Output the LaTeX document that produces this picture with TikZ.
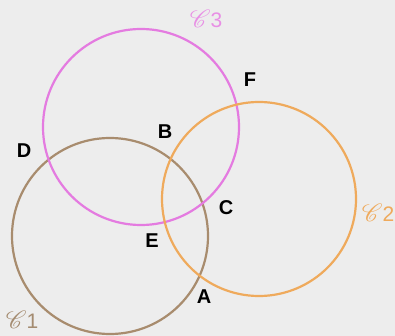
\documentclass[tikz,border=0pt]{standalone}
\usepackage{fontspec}
\usepackage{mathrsfs}
\setmainfont{Liberation Sans}
\definecolor{bg}{HTML}{EDEDED}
\definecolor{cbrown}{HTML}{A88C6E}
\definecolor{cpink}{HTML}{E47BE0}
\definecolor{corange}{HTML}{EFAA5C}
\newcommand{\scrC}{{\fontsize{27}{28}\selectfont$\mathscr{C}$}}
\tikzset{
  circ/.style={circle, draw, line width=2.2pt, inner sep=0pt, minimum size=#1},
  pt/.style={font=\fontsize{20}{22}\selectfont\bfseries, text=black, inner sep=0pt},
  clab/.style={font=\fontsize{21}{22}\selectfont, inner sep=0pt},
}
\begin{document}
\begin{tikzpicture}[x=1pt,y=-1pt]
\fill[bg] (0,0) rectangle (395,336);
\useasboundingbox (0,0) rectangle (395,336);
\node[circ=196pt, draw=cbrown] (c1) at (110,236) {};
\node[circ=196pt, draw=cpink] (c3) at (141,127) {};
\node[circ=194pt, draw=corange] (c2) at (259,199) {};
\node[clab, text=cpink!85] (l3) at (206,19) {\scrC3};
\node[clab, text=cbrown!90!gray] (l1) at (22,320) {\scrC1};
\node[clab, text=corange] (l2) at (378,213) {\scrC2};
\node[pt] (F) at (250,80) {F};
\node[pt] (B) at (165,132) {B};
\node[pt] (D) at (24,151) {D};
\node[pt] (C) at (226,208) {C};
\node[pt] (E) at (152,241) {E};
\node[pt] (A) at (204,297) {A};
\end{tikzpicture}
\end{document}
